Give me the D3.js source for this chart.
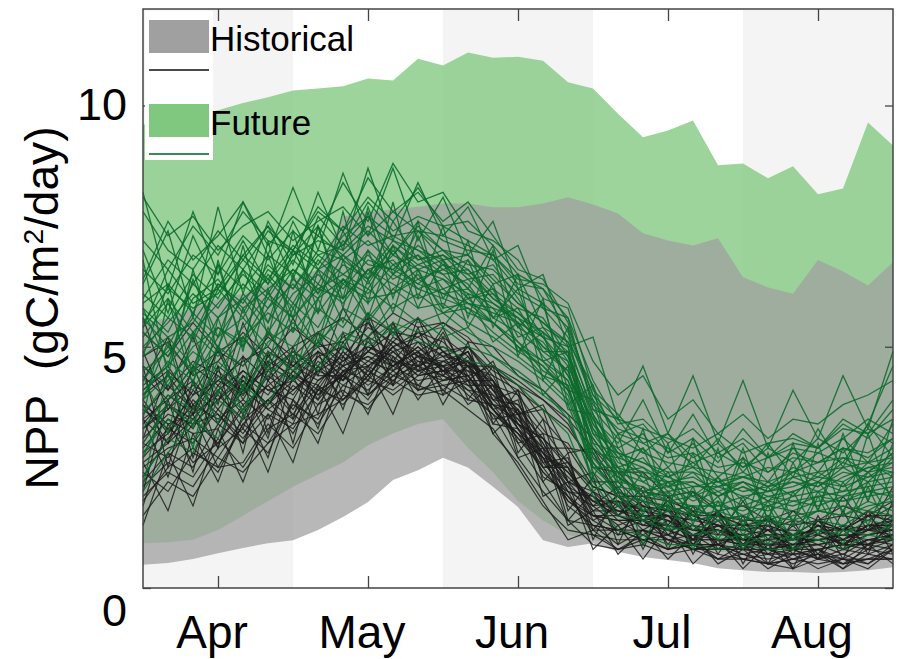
<!DOCTYPE html>
<html>
<head>
<meta charset="utf-8">
<script src="https://cdn.jsdelivr.net/npm/d3@7"></script>
<style>
  body { margin: 0; background: #fff; }
  text { font-family: "Liberation Sans", Arial, sans-serif; fill: #000; }
</style>
</head>
<body>
<svg width="900" height="659"></svg>
<script>
// pentad grid, mid-March to mid-August, in month units (Apr = 4)
var nPentads = 31;
var monthTicks = [4, 5, 6, 7, 8],
    monthNames = ["Apr", "May", "Jun", "Jul", "Aug"];
var yTicks = [0, 5, 10];

// envelopes
var histMax = [5.5,5.6,5.8,6.0,6.1,6.3,6.4,6.6,7.7,7.8,7.85,7.9,7.97,7.97,7.89,7.89,7.97,8.1,7.95,7.76,7.35,7.2,7.1,7.25,6.44,6.23,6.1,6.8,6.56,6.27,6.75];
var histMin = [0.48,0.52,0.6,0.72,0.83,0.93,0.99,1.2,1.47,1.78,2.24,2.44,2.7,2.5,2.1,1.68,0.99,0.85,0.93,0.75,0.64,0.58,0.52,0.41,0.37,0.33,0.33,0.31,0.33,0.37,0.43];
var futMax = [9.6,9.7,9.8,9.9,10.05,10.17,10.31,10.35,10.4,10.56,10.52,10.97,10.83,11.1,10.99,11.01,10.93,10.48,10.35,9.83,9.34,9.48,9.69,8.76,8.8,8.49,8.74,8.16,8.28,9.65,9.17];
var futMin = [0.93,0.95,1.0,1.2,1.5,1.8,2.1,2.35,2.6,2.96,3.2,3.4,3.5,2.9,2.4,1.8,1.4,1.1,1.0,0.9,0.85,0.8,0.8,0.75,0.72,0.7,0.7,0.72,0.75,0.78,0.8];

// ensemble members, historical
var histRuns = [
 [4.1,4.5,4.0,4.9,4.6,5.2,4.8,5.3,5.6,5.2,5.7,5.4,5.5,5.1,5.0,4.4,4.1,3.6,3.1,2.4,2.4,1.9,2.0,1.6,1.7,1.4,1.6,1.4,1.7,1.5,1.8],
 [2.1,2.6,2.3,3.1,2.5,3.3,3.6,3.2,4.0,3.8,4.3,4.0,4.1,3.7,3.3,2.5,1.7,1.2,1.1,0.8,1.0,0.8,0.9,0.6,0.7,0.5,0.6,0.7,0.4,0.7,0.6],
 [3.5,3.0,3.9,3.4,4.3,3.8,4.5,4.1,4.9,4.4,5.0,4.6,4.8,4.2,4.2,3.4,3.1,2.2,2.0,1.5,1.8,1.1,1.6,0.9,1.4,0.8,1.3,0.7,1.3,0.9,1.3],
 [2.7,3.3,3.0,3.7,3.2,3.9,4.4,4.0,4.4,4.9,4.6,5.0,4.5,4.7,3.8,3.7,2.7,2.5,1.6,1.9,1.3,1.6,1.0,1.4,0.9,1.2,0.8,1.3,0.9,1.3,1.0],
 [1.5,2.2,1.9,2.7,2.4,3.0,3.4,3.6,3.9,4.3,4.1,4.5,4.3,4.4,3.7,3.2,2.8,1.9,1.5,1.2,1.4,1.0,0.9,0.9,0.8,0.8,0.7,0.8,0.9,0.8,1.0],
 [5.3,4.8,5.5,4.9,5.2,4.6,5.0,5.3,4.8,5.4,5.1,5.6,4.9,5.0,4.4,4.1,3.7,3.3,2.6,2.0,1.7,1.6,1.5,1.3,1.2,1.3,1.1,1.2,1.2,1.2,1.4],
 [3.0,3.8,3.3,4.2,3.6,4.4,4.0,4.7,4.3,5.0,4.8,4.4,4.9,4.3,4.3,3.3,2.5,2.5,1.4,1.7,1.2,1.5,0.9,1.3,0.9,1.2,0.8,1.1,0.9,0.9,1.1],
 [3.9,3.2,4.1,3.6,3.0,4.3,3.7,4.5,4.8,4.4,5.1,4.7,4.4,4.8,3.9,3.8,3.0,2.0,1.9,1.4,1.4,1.2,1.3,1.0,0.9,1.0,1.1,0.9,1.0,1.2,1.1],
 [2.4,2.0,2.8,2.5,2.6,3.4,2.9,3.8,4.1,3.7,4.4,4.2,4.0,4.3,3.2,2.6,1.8,1.0,1.2,0.8,1.1,0.8,0.9,0.7,0.6,0.5,0.6,0.5,0.6,0.5,0.8],
 [4.4,3.9,4.6,4.2,4.8,4.3,4.9,4.6,5.2,5.5,5.0,5.3,5.1,4.6,4.6,4.2,3.5,2.9,2.8,1.9,1.6,1.7,1.4,1.5,1.3,1.4,1.1,1.4,1.2,1.3,1.3],
 [2.9,3.5,3.2,3.3,4.1,3.7,4.1,4.6,4.2,4.6,4.9,4.5,4.7,4.4,3.8,3.4,2.9,2.1,1.8,1.5,1.3,1.3,1.1,1.0,1.0,0.9,0.9,1.0,0.8,1.0,1.0],
 [3.6,4.2,3.7,4.5,4.0,4.7,4.4,4.2,4.9,4.5,5.2,4.9,5.2,4.8,4.2,4.0,3.3,2.6,2.1,1.9,1.5,1.5,1.2,1.2,1.0,1.1,0.9,1.0,1.1,1.1,1.2],
 [1.8,2.5,2.9,2.4,3.4,3.0,3.8,3.5,4.4,4.1,4.6,4.3,4.4,4.1,3.6,2.7,2.0,1.4,1.3,0.9,1.2,1.0,1.1,0.8,0.9,0.7,0.8,0.6,0.8,0.7,0.9],
 [3.3,3.7,4.2,3.9,4.5,4.1,3.9,4.8,4.4,5.1,4.6,4.9,4.3,4.6,4.1,3.3,2.8,2.4,1.7,1.8,1.6,1.4,1.1,1.3,1.0,1.1,0.9,1.2,0.9,1.2,1.3],
 [4.8,5.1,4.4,4.7,5.3,4.8,5.4,5.0,5.1,5.6,5.3,5.2,5.5,5.2,4.6,4.3,3.9,3.4,2.5,2.4,1.9,1.8,1.6,1.5,1.4,1.4,1.3,1.4,1.5,1.4,1.7],
 [2.6,3.0,3.5,3.0,3.7,4.2,3.6,4.3,4.6,4.2,4.6,5.0,4.6,4.4,3.7,3.2,2.7,1.8,1.5,1.4,1.1,1.4,1.0,1.0,1.0,0.8,0.9,0.9,0.7,1.0,0.9],
 [3.8,3.4,3.6,4.4,3.8,4.2,4.6,4.3,4.7,5.0,4.7,4.6,4.9,4.5,4.3,3.6,2.8,2.2,1.9,1.6,1.6,1.5,1.1,1.3,1.0,1.0,1.0,1.0,1.1,1.0,1.1],
 [3.1,3.6,3.4,3.9,4.3,3.8,4.5,4.0,4.6,4.8,4.4,4.6,4.4,4.2,3.7,3.0,2.2,1.4,0.9,0.8,0.9,0.7,0.8,0.6,0.6,0.5,0.4,0.6,0.5,0.6,0.6],
 [4.2,4.6,3.8,4.3,4.7,5.0,4.5,4.9,4.6,4.9,5.3,4.8,4.6,4.7,4.2,3.7,3.1,2.6,2.0,1.7,1.7,1.6,1.3,1.2,1.1,1.2,1.0,1.3,1.0,1.3,1.4],
 [2.2,2.8,2.5,3.4,3.0,3.6,3.3,4.1,3.9,4.5,4.2,4.6,4.2,4.3,3.4,3.3,2.4,1.9,1.2,1.2,1.0,1.1,0.8,0.9,0.7,0.6,0.7,0.7,0.6,0.6,0.8],
 [3.4,4.0,3.6,4.0,3.5,4.5,4.1,4.5,4.3,4.7,4.5,4.8,4.7,4.6,4.0,3.6,3.0,2.2,1.6,1.6,1.4,1.3,1.2,1.1,1.1,0.9,1.0,1.1,0.9,1.1,1.2],
 [3.7,3.3,4.0,4.3,4.0,4.6,4.3,4.8,5.0,4.6,5.0,5.2,4.8,5.0,4.5,4.2,3.9,3.5,2.9,2.3,2.0,1.9,1.5,1.5,1.3,1.3,1.1,1.4,1.2,1.5,1.5],
 [2.8,3.2,3.8,3.5,3.9,3.5,4.2,3.8,4.5,4.3,4.9,4.4,4.5,4.3,3.9,3.4,2.6,2.0,1.7,1.3,1.5,1.2,1.0,1.2,0.8,1.0,0.8,0.9,1.0,0.9,1.1],
 [4.6,4.1,4.7,4.4,4.1,4.9,4.6,5.1,4.7,5.2,4.9,5.1,4.8,4.7,4.3,3.6,3.8,2.8,2.9,2.0,1.8,1.7,1.5,1.3,1.3,1.2,1.2,1.1,1.3,1.2,1.5],
 [1.9,2.4,2.1,2.9,3.3,2.8,3.9,3.4,4.2,4.0,4.5,4.1,4.2,3.9,3.8,3.1,2.5,1.8,1.4,1.1,1.2,1.0,0.8,0.8,0.8,0.7,0.7,0.8,0.5,0.8,0.7],
 [3.5,3.9,4.3,3.7,4.4,4.0,4.7,4.4,4.4,4.9,4.7,4.5,4.6,4.9,4.1,3.5,2.9,2.4,1.8,1.8,1.4,1.5,1.0,1.6,0.9,1.5,0.8,1.4,1.0,1.3,1.2],
 [3.0,2.7,3.4,3.6,3.1,3.8,4.3,3.9,4.5,4.6,4.3,4.7,4.6,4.1,4.0,3.3,2.7,2.1,1.5,1.5,1.3,1.2,1.0,1.0,0.9,0.9,0.8,0.8,0.9,0.9,1.0],
 [4.0,4.4,3.7,4.6,4.2,4.5,4.9,4.5,5.0,4.7,5.1,4.8,5.0,4.7,4.1,3.8,3.2,3.0,2.2,2.2,1.7,1.5,1.4,1.3,1.2,1.1,1.1,1.2,1.0,1.3,1.3],
 [2.5,2.9,3.1,2.7,3.5,3.9,3.5,4.2,3.8,4.4,4.0,4.4,4.5,4.0,3.6,3.2,2.4,1.9,1.3,1.2,1.2,1.1,0.9,0.9,0.7,0.8,0.6,0.8,0.6,0.9,0.8],
 [3.3,3.8,3.5,4.1,4.5,4.1,4.3,4.9,4.5,4.8,4.6,4.9,4.5,4.5,3.8,3.5,2.8,2.3,1.8,1.6,1.5,1.4,1.2,1.2,1.0,1.1,1.0,1.0,1.0,1.2,1.2],
 [2.0,3.9,2.4,4.6,2.8,4.9,3.5,5.3,4.0,5.6,4.2,5.4,4.0,5.1,3.4,4.1,2.2,2.8,1.0,2.0,0.8,1.9,0.7,1.6,0.5,1.4,0.4,1.5,0.6,1.6,0.7],
 [4.6,2.5,4.3,2.9,4.8,3.2,5.0,3.6,5.3,4.0,5.5,4.1,5.2,3.9,4.6,2.8,3.5,1.6,2.3,0.9,2.0,0.8,1.7,0.7,1.5,0.5,1.4,0.6,1.6,0.7,1.8],
 [1.3,2.8,1.7,3.3,2.2,3.6,2.6,4.2,3.2,4.6,3.6,4.9,3.8,4.7,3.2,3.7,1.9,2.2,0.8,1.3,0.6,1.3,0.5,1.0,0.4,0.9,0.4,0.8,0.4,0.9,0.5],
 [5.6,4.1,5.2,3.8,5.5,4.3,5.6,4.4,5.8,4.9,5.5,4.6,5.4,4.3,4.7,3.6,3.7,2.2,2.4,1.5,2.1,1.3,2.0,1.1,1.8,1.0,1.6,1.1,1.9,1.2,2.1],
 [3.1,4.5,2.7,4.1,3.3,4.7,3.0,4.9,3.7,5.2,4.2,5.6,4.4,5.0,4.3,3.0,3.2,1.4,2.0,1.1,1.7,0.9,1.6,0.8,1.3,0.7,1.1,0.6,1.2,0.8,1.4],
 [2.6,1.6,3.2,2.2,3.6,2.4,3.9,3.0,4.5,3.6,4.8,3.9,4.6,3.8,4.2,2.7,2.9,1.3,1.6,0.7,1.2,0.6,1.1,0.5,0.8,0.4,0.7,0.4,0.6,0.4,0.8],
 [3.8,3.0,4.6,3.4,4.2,3.1,4.8,3.9,5.1,4.3,5.4,4.5,5.3,4.4,4.6,4.0,2.6,2.7,1.2,1.8,0.9,1.7,0.9,1.5,0.8,1.3,0.7,1.4,0.8,1.5,1.0],
 [4.3,5.2,3.6,5.0,4.0,5.3,4.6,5.0,4.3,5.5,4.7,5.3,4.9,4.6,4.4,3.4,3.1,2.5,1.7,2.1,1.4,1.8,1.2,1.6,1.0,1.5,1.0,1.3,1.2,1.6,1.3],
 [1.7,3.4,2.6,3.0,3.8,2.7,4.4,3.3,4.8,4.0,4.4,4.8,4.1,4.6,3.5,3.6,2.3,2.0,1.1,1.0,1.0,0.8,1.0,0.6,0.9,0.5,0.8,0.6,0.7,0.5,0.9],
 [3.5,2.3,3.8,2.9,4.4,3.7,3.4,4.6,3.9,4.4,5.0,4.2,4.7,4.9,3.7,3.9,2.5,2.6,1.5,1.4,1.4,1.1,1.3,0.9,1.1,0.8,0.9,1.0,0.8,1.0,1.1],
 [4.9,3.7,4.5,4.9,3.9,4.8,4.3,5.1,4.6,5.7,4.5,5.1,4.5,4.9,3.9,4.1,2.9,2.9,2.1,1.9,1.9,1.6,1.7,1.4,1.5,1.2,1.4,1.3,1.2,1.5,1.4],
 [2.3,3.1,3.6,2.5,3.4,3.9,3.2,4.1,4.4,3.9,4.7,4.1,4.3,4.4,3.7,3.1,2.7,1.7,1.3,1.2,1.0,1.0,0.8,0.9,0.6,0.7,0.5,0.7,0.5,0.6,0.6]
];

// ensemble members, future
var futRuns = [
 [7.2,6.6,7.5,6.9,7.8,7.2,7.0,7.9,7.4,8.1,7.6,8.3,7.5,7.6,7.1,6.5,6.2,5.6,4.3,3.4,3.5,3.0,3.3,2.8,3.1,2.7,3.2,2.9,3.4,3.1,3.7],
 [3.0,3.8,3.4,4.4,4.0,4.9,4.5,5.3,5.0,5.7,5.3,5.6,5.2,5.4,4.8,4.5,4.1,3.5,2.3,1.7,1.5,1.3,1.1,1.2,0.9,1.1,1.0,1.2,1.1,1.4,1.3],
 [5.2,5.9,5.1,6.2,5.6,6.5,5.9,6.8,6.3,7.0,6.5,6.9,6.2,6.4,5.9,5.5,5.2,4.4,3.5,2.5,2.7,2.1,2.4,1.9,2.2,1.8,2.3,2.1,2.5,2.2,2.7],
 [4.5,4.9,5.6,5.0,6.1,5.5,6.4,6.0,6.9,6.3,7.1,6.6,6.8,6.0,6.2,5.2,5.4,4.7,3.0,2.8,2.2,2.5,1.9,2.3,1.8,2.2,1.9,2.4,2.1,2.6,2.3],
 [6.4,7.6,6.8,7.3,8.0,7.1,7.7,7.3,8.4,7.6,8.8,8.0,8.2,7.4,7.2,6.8,6.0,5.8,4.1,3.6,3.0,3.2,2.7,3.0,2.5,2.9,2.6,3.1,2.8,3.3,3.0],
 [2.3,3.1,2.8,3.9,3.5,4.6,4.3,5.1,5.6,5.2,5.9,5.5,5.7,5.3,5.0,4.7,4.3,3.8,2.5,2.0,1.6,1.7,1.4,1.5,1.2,1.4,1.3,1.6,1.5,1.8,1.6],
 [5.6,5.0,6.0,6.4,5.7,6.6,6.2,6.9,6.5,6.2,7.0,6.4,6.6,6.3,5.6,5.8,4.9,4.9,3.2,2.9,2.3,2.2,2.2,1.9,2.1,1.8,2.0,2.2,2.0,2.4,2.5],
 [4.0,4.7,4.3,5.2,5.6,5.0,5.9,5.4,6.3,6.0,6.1,6.5,5.8,5.9,5.5,5.0,4.6,4.1,2.8,2.2,2.1,1.8,1.9,1.6,1.7,1.6,1.8,1.7,1.9,2.0,2.1],
 [7.8,7.0,6.6,7.4,6.8,7.5,6.9,7.2,7.0,7.5,7.2,7.0,6.8,6.9,6.4,5.9,5.5,5.0,3.7,3.1,2.8,2.6,2.5,2.4,2.3,2.5,2.4,2.6,2.7,2.6,2.9],
 [5.0,5.5,6.1,5.6,6.3,5.8,6.6,6.2,6.5,6.9,6.4,6.7,6.5,6.0,6.1,5.4,5.1,4.4,3.3,2.4,2.5,2.0,2.1,2.1,1.9,2.0,2.2,2.0,2.3,2.5,2.4],
 [3.6,4.3,4.9,4.5,5.2,5.7,5.3,6.0,6.4,5.9,6.5,6.2,6.0,5.8,5.5,5.1,4.5,4.2,2.7,2.3,1.9,2.0,1.6,1.8,1.5,1.7,1.6,1.8,1.8,1.9,2.0],
 [5.9,6.3,5.7,6.7,6.2,6.9,6.5,7.3,6.9,7.4,6.9,7.6,7.2,7.0,6.9,6.4,6.3,5.9,4.7,4.0,4.4,3.5,3.9,3.2,3.6,3.1,3.5,3.4,3.8,4.0,4.3],
 [4.8,5.2,4.6,5.6,6.0,5.3,6.1,6.5,6.0,6.6,6.8,6.2,6.4,5.9,5.7,5.5,4.8,4.3,3.1,2.4,2.2,1.9,2.0,1.7,1.9,1.7,1.9,2.0,1.9,2.2,2.3],
 [2.0,2.8,3.5,3.1,4.2,3.8,4.8,4.5,5.2,5.0,5.4,5.1,5.0,4.7,4.6,4.2,3.7,3.2,1.9,1.2,1.1,0.9,0.9,0.8,0.9,0.8,0.8,1.0,0.8,1.1,1.0],
 [6.1,5.6,6.5,6.0,6.9,6.4,7.1,6.7,7.5,7.1,7.3,7.0,6.6,6.8,6.2,5.8,5.6,4.8,3.6,2.7,2.9,2.3,2.6,2.2,2.4,2.1,2.5,2.3,2.7,2.4,2.8],
 [4.3,5.0,4.5,5.4,5.0,5.8,6.3,5.7,6.4,6.1,6.7,6.3,6.1,6.2,5.6,5.3,4.9,4.5,2.9,2.5,2.0,2.1,1.8,2.0,1.7,1.9,1.8,1.9,2.0,2.1,2.2],
 [5.4,6.0,5.3,5.9,6.5,6.0,6.8,6.3,7.2,6.7,6.6,7.1,6.7,6.5,6.0,5.7,5.2,4.6,3.4,2.6,2.4,2.3,2.1,2.2,2.0,2.1,2.2,2.1,2.4,2.3,2.6],
 [4.6,4.2,5.0,5.4,5.1,6.0,5.6,6.2,6.0,6.6,6.1,6.4,6.1,5.9,5.8,5.1,4.7,4.3,3.0,2.3,2.0,2.2,1.9,2.1,2.2,2.0,2.4,2.8,2.6,3.4,4.6],
 [5.8,5.3,6.3,5.8,6.6,6.1,6.9,7.5,6.8,7.2,6.7,6.9,6.5,6.6,6.0,5.6,5.3,4.9,3.5,3.0,3.9,2.8,3.6,2.7,3.0,2.4,2.8,2.6,2.9,2.7,3.1],
 [3.3,4.0,3.7,4.7,4.2,5.1,5.5,5.0,5.8,5.5,6.2,5.8,5.9,5.5,5.2,4.8,4.4,3.9,2.6,1.9,1.8,1.6,1.7,1.4,1.5,1.3,1.5,1.6,1.5,1.7,1.8],
 [6.6,6.1,6.9,6.5,7.3,6.8,7.4,6.9,7.1,7.7,7.3,7.4,7.0,6.7,6.6,6.1,5.8,5.2,3.9,3.2,3.0,2.7,2.8,2.5,2.6,2.4,2.7,2.6,2.9,2.8,3.1],
 [4.9,5.6,5.2,6.3,5.8,6.2,6.6,6.1,6.7,6.4,6.9,6.6,6.4,6.1,5.9,5.6,5.0,4.5,3.2,2.5,2.3,2.1,2.2,1.9,2.1,1.9,2.0,2.2,2.1,2.3,2.4],
 [2.8,3.5,3.0,4.1,3.7,4.4,4.9,4.6,5.3,5.1,5.5,5.3,5.4,5.0,4.8,4.4,4.0,3.6,2.2,1.5,1.4,1.2,1.3,1.0,1.1,0.9,1.1,1.0,1.2,1.1,1.3],
 [5.5,6.2,5.8,6.1,6.8,6.3,7.0,6.6,6.9,6.5,7.2,6.8,6.9,6.4,6.5,5.9,5.5,5.1,3.6,2.8,2.6,2.4,2.4,2.2,2.3,2.1,2.3,2.4,2.5,2.6,2.7],
 [6.0,6.8,6.3,7.1,6.6,7.4,7.0,7.8,7.4,8.5,7.8,8.2,7.6,8.0,7.3,6.6,6.4,5.5,3.8,3.3,3.1,2.9,2.6,2.8,2.5,2.7,2.9,2.8,3.1,3.5,3.2],
 [4.1,4.6,5.3,4.8,5.4,6.1,5.6,6.3,5.9,6.6,6.3,6.0,6.2,5.7,5.5,5.0,4.7,4.1,2.7,2.1,2.0,1.8,1.7,1.7,1.6,1.8,1.7,1.9,1.8,2.0,1.9],
 [5.3,4.8,5.7,5.2,6.0,6.4,5.8,6.6,6.2,6.8,6.6,6.3,6.7,6.2,5.8,5.6,5.0,4.7,3.3,2.7,2.5,2.2,2.3,2.0,2.2,2.0,2.1,2.3,2.2,2.5,2.6],
 [8.1,7.3,7.7,7.0,7.5,7.8,7.2,7.6,7.9,7.3,7.8,7.4,7.3,7.1,6.8,6.2,5.9,5.4,4.0,3.5,3.3,3.1,2.9,3.2,2.8,3.0,3.1,2.9,3.3,3.2,3.5],
 [3.9,4.4,4.1,5.0,4.6,5.3,5.0,5.8,5.4,6.2,5.8,6.1,5.7,5.8,5.3,4.9,4.6,4.0,2.6,2.0,1.8,1.7,1.5,1.6,1.4,1.5,1.4,1.6,1.7,1.6,1.9],
 [5.7,5.2,5.5,6.3,5.9,6.7,6.2,7.0,6.8,6.4,7.1,6.7,6.9,6.6,6.1,5.7,5.3,4.8,3.4,2.8,2.6,2.3,2.5,2.1,2.3,2.2,2.4,2.2,2.6,2.4,2.8],
 [3.5,6.0,4.2,6.8,4.9,7.2,5.3,7.5,5.8,7.8,6.0,7.6,5.8,7.2,5.4,6.5,4.3,5.4,2.3,3.2,1.5,3.0,1.3,2.9,1.2,2.8,1.3,3.0,1.5,3.2,1.7],
 [6.8,4.4,6.6,4.9,7.1,5.2,7.4,5.7,7.8,5.9,8.0,6.0,7.5,5.6,7.0,4.8,6.0,3.8,4.2,2.0,3.3,1.6,3.1,1.5,2.9,1.4,3.0,1.6,3.2,1.8,3.5],
 [2.1,4.5,2.9,5.0,3.6,5.4,4.3,6.0,4.9,6.4,5.2,6.6,5.4,6.1,5.1,5.5,4.0,4.6,2.0,2.4,0.9,2.0,0.8,1.8,0.8,1.7,0.8,1.9,0.9,2.1,1.0],
 [8.2,6.2,7.8,6.5,8.0,6.9,8.3,7.0,8.6,7.3,8.7,7.2,8.1,6.9,7.6,6.2,6.5,5.0,5.2,3.5,4.6,3.2,4.4,3.0,4.3,2.9,4.1,3.1,4.4,3.3,4.9],
 [4.8,6.3,4.4,6.7,5.0,6.9,5.6,7.5,6.0,7.9,6.5,7.4,6.8,6.2,7.1,5.4,5.9,4.1,3.9,2.2,2.9,1.7,2.8,1.5,2.7,1.4,2.6,1.6,2.9,1.8,3.0],
 [5.8,4.6,6.4,5.2,6.6,5.5,7.0,6.1,7.4,6.4,7.6,6.8,7.0,6.5,6.7,6.0,5.2,5.0,2.8,2.7,1.8,2.4,1.5,2.3,1.3,2.1,1.4,2.2,1.6,2.4,1.9],
 [3.9,5.1,3.3,5.6,4.1,6.2,4.7,6.6,5.5,7.0,5.7,7.3,6.0,6.8,5.6,6.2,4.7,4.9,2.5,2.5,1.6,2.2,1.4,1.9,1.1,1.8,1.0,2.0,1.2,2.2,1.4],
 [6.3,7.4,5.6,7.9,6.1,7.6,6.7,8.2,7.0,8.7,7.2,8.4,7.3,7.9,6.8,7.1,5.8,5.6,3.7,3.5,2.8,3.2,2.5,3.1,2.4,3.0,2.3,3.3,2.5,3.4,2.7],
 [4.4,3.2,5.3,4.0,5.8,4.6,6.5,5.1,6.8,5.6,7.1,5.8,6.8,5.4,6.3,4.9,5.3,3.7,3.6,1.7,2.4,1.2,2.1,1.0,1.9,0.9,2.0,1.1,2.2,1.3,2.4],
 [5.4,6.6,5.9,6.2,7.2,6.3,7.6,6.6,7.3,7.7,6.9,7.5,7.0,6.9,6.3,6.5,5.4,5.1,4.2,2.9,3.2,2.5,3.0,2.3,2.7,2.2,2.9,2.4,3.1,2.6,3.4],
 [2.7,3.9,4.6,3.4,5.2,4.5,5.8,5.0,6.4,5.6,6.2,6.6,5.7,6.0,5.5,5.0,4.4,4.2,2.4,1.9,1.4,1.6,1.2,1.4,1.0,1.5,1.1,1.4,1.3,1.6,1.5],
 [7.0,5.7,7.3,6.2,6.9,7.5,6.4,7.7,7.1,8.0,7.4,7.7,7.5,7.2,6.9,6.3,6.2,5.3,4.0,3.2,3.4,2.8,3.1,2.6,3.3,2.7,3.0,2.9,3.5,3.2,3.9]
];

var svg = d3.select("svg"),
    margin = {top: 9, right: 7, bottom: 71, left: 143},
    width = svg.attr("width") - margin.left - margin.right,
    height = svg.attr("height") - margin.top - margin.bottom,
    g = svg.append("g").attr("transform", "translate(" + margin.left + "," + margin.top + ")");

var t = d3.range(nPentads).map(function(i) { return 3.5 + i / 6; });

var x = d3.scaleLinear().domain([3.5, 8.5]).range([0, width]),
    y = d3.scaleLinear().domain([0, 12]).range([height, 0]);
// tick labels sit a little off the ticks in the original
var yLab = d3.scaleLinear().domain([0, 10]).range([height + 22, 95]);

// alternating month shading
g.selectAll(".band")
  .data([4, 6, 8])
  .enter().append("rect")
    .attr("class", "band")
    .attr("x", function(d) { return x(d - 0.5); })
    .attr("width", function(d) { return x(d + 0.5) - x(d - 0.5); })
    .attr("y", 0)
    .attr("height", height)
    .attr("fill", "#f4f4f4");

var area = function(lo, hi) {
  return d3.area()
    .x(function(d, i) { return x(t[i]); })
    .y0(function(d, i) { return y(lo[i]); })
    .y1(function(d, i) { return y(hi[i]); })(lo);
};

g.append("path").attr("d", area(futMin, futMax))
  .attr("fill", "#80c880").attr("fill-opacity", 0.78);
g.append("path").attr("d", area(histMin, histMax))
  .attr("fill", "#a0a0a0").attr("fill-opacity", 0.75);

var line = d3.line()
  .x(function(d, i) { return x(t[i]); })
  .y(function(d) { return y(d); });

g.selectAll(".hist")
  .data(histRuns)
  .enter().append("path")
    .attr("class", "hist")
    .attr("d", line)
    .attr("fill", "none")
    .attr("stroke", "#1c1c1c")
    .attr("stroke-opacity", 0.85)
    .attr("stroke-width", 1.2);

g.selectAll(".fut")
  .data(futRuns)
  .enter().append("path")
    .attr("class", "fut")
    .attr("d", line)
    .attr("fill", "none")
    .attr("stroke", "#0b6a2c")
    .attr("stroke-opacity", 0.88)
    .attr("stroke-width", 1.3);

// frame and inward ticks
g.append("rect")
  .attr("width", width).attr("height", height)
  .attr("fill", "none").attr("stroke", "#444").attr("stroke-width", 1.5);

var tickStyle = function(sel) {
  sel.select(".domain").remove();
  sel.selectAll("line").attr("stroke", "#444").attr("stroke-width", 1.3);
  sel.selectAll("text").remove();
};

g.append("g").attr("transform", "translate(0," + height + ")")
  .call(d3.axisBottom(x).tickValues(monthTicks).tickSize(-12)).call(tickStyle);
g.append("g")
  .call(d3.axisTop(x).tickValues(monthTicks).tickSize(-12)).call(tickStyle);
g.append("g")
  .call(d3.axisLeft(y).tickValues(yTicks).tickSize(-8)).call(tickStyle);
g.append("g").attr("transform", "translate(" + width + ",0)")
  .call(d3.axisRight(y).tickValues(yTicks).tickSize(-8)).call(tickStyle);

g.selectAll(".xlab")
  .data(monthTicks)
  .enter().append("text")
    .attr("x", function(d) { return x(d) - 6; })
    .attr("y", height + 60)
    .attr("text-anchor", "middle")
    .style("font-size", "46px")
    .text(function(d, i) { return monthNames[i]; });

g.selectAll(".ylab")
  .data(yTicks)
  .enter().append("text")
    .attr("x", -16)
    .attr("y", function(d) { return yLab(d); })
    .attr("dy", "0.35em")
    .attr("text-anchor", "end")
    .style("font-size", "45px")
    .text(function(d) { return d; });

var ytitle = svg.append("text")
  .attr("transform", "translate(58,308) rotate(-90)")
  .attr("text-anchor", "middle")
  .attr("textLength", 363)
  .attr("lengthAdjust", "spacingAndGlyphs")
  .style("font-size", "46px")
  .style("white-space", "pre");
ytitle.append("tspan").text("NPP  (gC/m");
ytitle.append("tspan").attr("baseline-shift", "super").style("font-size", "28px").text("2");
ytitle.append("tspan").text("/day)");

// legend
var leg = g.append("g").attr("transform", "translate(2,2)");
leg.append("rect").attr("width", 68).attr("height", 149).attr("fill", "#fff");
var legItems = [
  {name: "Historical", fill: "#a0a0a0", stroke: "#1c1c1c"},
  {name: "Future", fill: "#80c880", stroke: "#0b6a2c"}
];
var item = leg.selectAll(".item")
  .data(legItems)
  .enter().append("g")
    .attr("transform", function(d, i) { return "translate(4," + (9 + i * 84) + ")"; });
item.append("rect").attr("width", 60).attr("height", 33).attr("fill", function(d) { return d.fill; });
item.append("line").attr("x1", 0).attr("x2", 60).attr("y1", 50).attr("y2", 50)
  .attr("stroke", function(d) { return d.stroke; }).attr("stroke-width", 1.8).attr("stroke-opacity", 0.8);
item.append("text")
  .attr("x", 61).attr("y", 31)
  .style("font-size", "35px")
  .text(function(d) { return d.name; });
</script>
</body>
</html>
